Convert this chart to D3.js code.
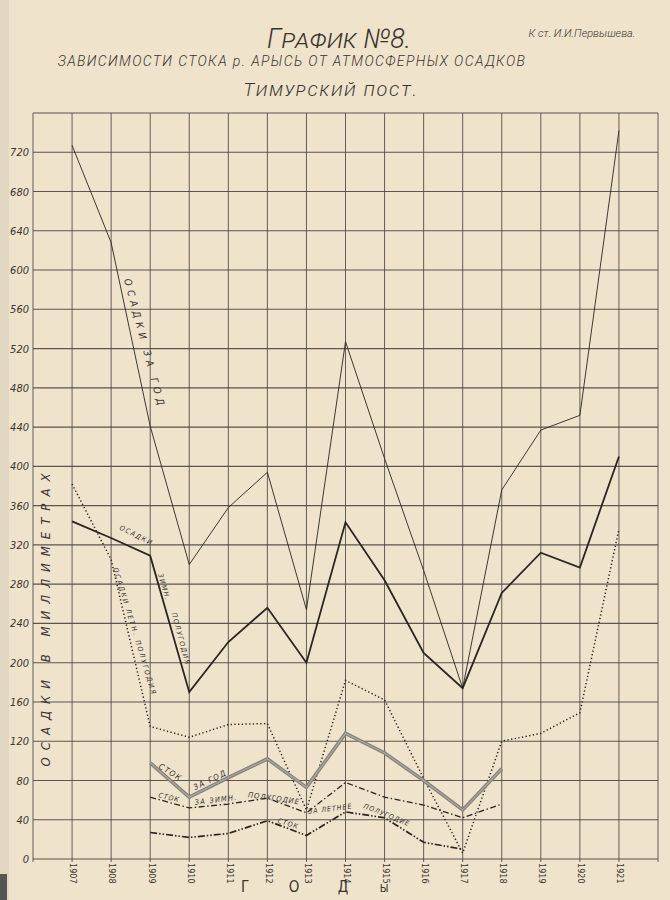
<!DOCTYPE html>
<html><head><meta charset="utf-8">
<script src="https://cdnjs.cloudflare.com/ajax/libs/d3/7.8.5/d3.min.js"></script>
<style>
html,body{margin:0;padding:0;background:#efe3cc;}
svg{display:block;}
text{font-family:"DejaVu Sans Condensed","DejaVu Sans",sans-serif;fill:#3a3430;}
.thin{font-family:"Roboto","DejaVu Sans Condensed",sans-serif;font-weight:300;}
</style></head>
<body><svg id="c" width="670" height="900"></svg>
<script>
// ---- data ----
const years = [1907,1908,1909,1910,1911,1912,1913,1914,1915,1916,1917,1918,1919,1920,1921];
const precipYear   = [727,628,441,300,358,394,254,527,408,294,174,376,437,452,742];
const precipWinter = [344,327,309,170,221,256,200,343,284,210,174,271,312,297,410];
const precipSummer = [382,305,135,124,137,138,50,182,162,82,6,120,128,149,336];
const runoffYear   = [null,null,98,63,83,102,73,128,108,80,50,92,null,null,null];
const runoffWinter = [null,null,63,52,56,62,47,78,63,55,42,56,null,null,null];
const runoffSummer = [null,null,27,22,26,39,24,48,42,17,10,null,null,null,null];
const yTicks = [0,40,80,120,160,200,240,280,320,360,400,440,480,520,560,600,640,680,720];
const gridRows = [0,40,80,120,160,200,240,280,320,360,400,440,480,520,560,600,640,680,720,760];
const gridCols = [1906,1907,1908,1909,1910,1911,1912,1913,1914,1915,1916,1917,1918,1919,1920,1921,1922];
const godLetters = ["Г","О","Д","Ы"];

const svg = d3.select("#c");
const x = d3.scaleLinear().domain([1906,1922]).range([33,658]);
const y = d3.scaleLinear().domain([0,760]).range([859,113]);

// paper
svg.append("rect").attr("width",670).attr("height",900).attr("fill","#efe3cc");
svg.append("rect").attr("x",0).attr("y",0).attr("width",9).attr("height",900).attr("fill","#e2d7c2");
svg.append("rect").attr("x",0).attr("y",874).attr("width",7).attr("height",26).attr("fill","#555");

// titles
svg.append("text").attr("class","thin").attr("x",339).attr("y",48).attr("text-anchor","middle")
  .style("font-size","27px").style("font-style","italic").style("font-variant","small-caps")
  .text("График №8.");
svg.append("text").attr("class","thin").attr("x",582).attr("y",37).attr("text-anchor","middle")
  .style("font-size","11px").style("font-style","italic").text("К ст. И.И.Первышева.");
svg.append("text").attr("class","thin").attr("x",292).attr("y",66).attr("text-anchor","middle")
  .style("font-size","14px").style("font-style","italic").style("letter-spacing","1.4px")
  .text("ЗАВИСИМОСТИ СТОКА  р. АРЫСЬ  ОТ АТМОСФЕРНЫХ ОСАДКОВ");
svg.append("text").attr("class","thin").attr("x",331).attr("y",96).attr("text-anchor","middle")
  .style("font-size","19px").style("font-style","italic").style("letter-spacing","1.8px").style("font-variant","small-caps")
  .text("Тимурский  пост.");

// grid
const gridColor = "#4d4740";
svg.append("g").selectAll("line").data(gridRows).join("line")
  .attr("x1",x(1906)).attr("x2",x(1922)).attr("y1",d=>y(d)).attr("y2",d=>y(d))
  .attr("stroke",gridColor).attr("stroke-width",1.1).attr("opacity",0.9);
svg.append("g").selectAll("line").data(gridCols).join("line")
  .attr("x1",d=>x(d)).attr("x2",d=>x(d)).attr("y1",y(760)).attr("y2",y(0)+3)
  .attr("stroke",gridColor).attr("stroke-width",1).attr("opacity",0.85);

// y axis labels
const yAxis = d3.axisLeft(y).tickValues(yTicks).tickSize(0).tickPadding(4).tickFormat(d3.format("d"));
const gy = svg.append("g").attr("transform",`translate(${x(1906)},0)`).call(yAxis);
gy.select(".domain").remove();
gy.selectAll("text").style("font-size","11px").style("font-style","italic").attr("fill","#3a3430")
  .style("font-family","'DejaVu Sans Condensed','DejaVu Sans',sans-serif");

// x axis labels (rotated)
const xAxis = d3.axisBottom(x).tickValues(years).tickSize(0).tickFormat(d3.format("d"));
const gx = svg.append("g").attr("transform",`translate(0,${y(0)})`).call(xAxis);
gx.select(".domain").remove();
gx.selectAll("text").attr("transform","rotate(90)").attr("x",4).attr("y",-1)
  .attr("dy","0.35em").attr("text-anchor","start").style("font-size","9px").attr("fill","#3a3430")
  .style("font-family","'DejaVu Sans Condensed','DejaVu Sans',sans-serif");

// Г О Д Ы
svg.append("g").selectAll("text").data(godLetters).join("text")
  .attr("x",(d,i)=>[245,294,343,384][i]).attr("y",892)
  .attr("text-anchor","middle").style("font-size",(d,i)=>i===3?"11px":"15px").text(d=>d);

// y-axis title
svg.append("text").attr("transform",`translate(50,${y(247)}) rotate(-90)`).attr("text-anchor","middle")
  .style("font-size","13px").style("font-style","italic").style("letter-spacing","7px")
  .text("ОСАДКИ В МИЛЛИМЕТРАХ");

// lines
const line = arr => d3.line().defined(d=>d!=null).x((d,i)=>x(years[i])).y(d=>y(d))(arr);
const ink = "#2a2521";
svg.append("path").attr("d",line(precipYear)).attr("fill","none").attr("stroke",ink).attr("stroke-width",0.9);
svg.append("path").attr("d",line(precipWinter)).attr("fill","none").attr("stroke",ink).attr("stroke-width",1.8);
svg.append("path").attr("d",line(precipSummer)).attr("fill","none").attr("stroke",ink).attr("stroke-width",1.5)
  .attr("stroke-dasharray","1.3,2.4");
svg.append("path").attr("d",line(runoffYear)).attr("fill","none").attr("stroke","#84807a").attr("stroke-width",3.6);
svg.append("path").attr("d",line(runoffYear)).attr("fill","none").attr("stroke","#aba69e").attr("stroke-width",1.3);
svg.append("path").attr("d",line(runoffWinter)).attr("fill","none").attr("stroke",ink).attr("stroke-width",1.3)
  .attr("stroke-dasharray","6,2.5,1.5,2.5");
svg.append("path").attr("d",line(runoffSummer)).attr("fill","none").attr("stroke",ink).attr("stroke-width",1.7)
  .attr("stroke-dasharray","7,2,1.5,2,1.5,2");

// line labels
function lab(txt, px, py, ang, size, ls){
  svg.append("text").attr("transform",`translate(${px},${py}) rotate(${ang})`)
    .style("font-size",(size||8)+"px").style("letter-spacing",(ls||1.5)+"px").style("font-style","italic")
    .text(txt);
}
lab("ОСАДКИ  ЗА  ГОД", x(1908.33), y(590), 75, 10, 4.5);
lab("ОСАДКИ", x(1908.2), y(336), 27, 7, 1.5);
lab("ЗИМН.", x(1909.2), y(290), 74, 7, 1.5);
lab("ПОЛУГОДИЯ", x(1909.55), y(250), 75, 7, 1.5);
lab("ОСАДКИ  ЛЕТН.  ПОЛУГОДИЯ", x(1908.05), y(296), 73, 7, 1.9);
lab("СТОК", x(1909.2), y(93), 32, 8, 1.5);
lab("ЗА ГОД", x(1910.15), y(70), -26, 8, 1.5);
lab("СТОК", x(1909.2), y(63), 14, 7, 1);
lab("ЗА ЗИМН.", x(1910.15), y(55), -7, 7.5, 1.2);
lab("ПОЛУГОДИЕ", x(1911.5), y(63), 8, 7.5, 1);
lab("СТОК", x(1912.25), y(37), 17, 7, 1);
lab("ЗА ЛЕТНЕЕ", x(1913.05), y(46), -7, 7, 1);
lab("ПОЛУГОДИЕ", x(1914.45), y(52), 22, 7, 1);
</script></body></html>
